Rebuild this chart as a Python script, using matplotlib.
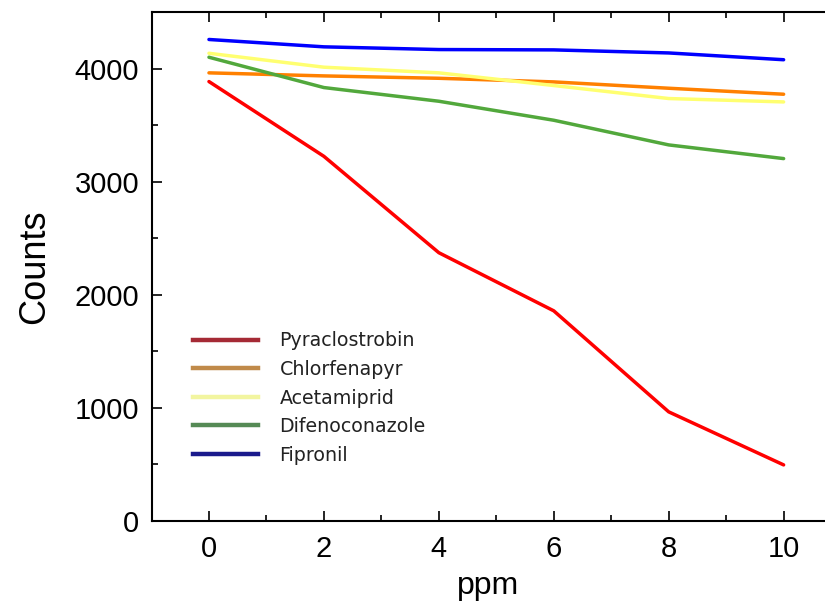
import matplotlib
matplotlib.use("Agg")
import matplotlib.pyplot as plt
from matplotlib.lines import Line2D
from matplotlib.ticker import MultipleLocator

ppm = [0, 2, 4, 6, 8, 10]
pyraclostrobin = [3885, 3224, 2372, 1858, 965, 496]
chlorfenapyr = [3962, 3935, 3914, 3882, 3826, 3773]
acetamiprid = [4135, 4012, 3962, 3850, 3735, 3705]
difenoconazole = [4100, 3832, 3711, 3543, 3325, 3204]
fipronil = [4257, 4192, 4168, 4165, 4138, 4078]

names = ["Pyraclostrobin", "Chlorfenapyr", "Acetamiprid", "Difenoconazole", "Fipronil"]
series = [pyraclostrobin, chlorfenapyr, acetamiprid, difenoconazole, fipronil]
line_colors = ["#ff0000", "#ff8000", "#ffff70", "#52a83c", "#0000ff"]
legend_colors = ["#a52a35", "#c08a4a", "#f2f5a0", "#558a55", "#1a1a8c"]

fig = plt.figure(figsize=(8.25, 6.01), dpi=100)
ax = fig.add_axes([151.5 / 825, 80 / 601, 1 - 151.5 / 825, 509 / 601])

for vals, c in zip(series, line_colors):
    ax.plot(ppm, vals, color=c, lw=2.5, solid_capstyle="round", zorder=3)

ax.set_xlim(-1, 10.72)
ax.set_ylim(0, 4500)
ax.xaxis.set_major_locator(MultipleLocator(2))
ax.xaxis.set_minor_locator(MultipleLocator(1))
ax.yaxis.set_major_locator(MultipleLocator(1000))
ax.yaxis.set_minor_locator(MultipleLocator(500))

for s in ["left", "bottom", "top"]:
    ax.spines[s].set_linewidth(1.5)
ax.spines["right"].set_visible(False)

ax.tick_params(which="both", direction="in", top=True, right=False, width=1.2)
ax.tick_params(which="major", length=7.5)
ax.tick_params(which="minor", length=4)
ax.tick_params(axis="x", which="major", pad=10)
ax.tick_params(axis="y", which="major", pad=9)

for lab in ax.get_xticklabels() + ax.get_yticklabels():
    lab.set_family("Liberation Sans")
    lab.set_fontsize(21)

ax.set_xlabel("ppm", family="Liberation Sans", fontsize=23, labelpad=6)
ax.set_ylabel("Counts", family="Liberation Sans", fontsize=26, labelpad=16)

handles = [Line2D([], [], color=c, lw=3.2) for c in legend_colors]
leg = fig.legend(handles, names, loc="center left",
                 bbox_to_anchor=(193 / 825, 1 - 398 / 601),
                 frameon=False, borderpad=0, borderaxespad=0,
                 handlelength=3.4, handletextpad=1.15, labelspacing=0.5,
                 prop={"family": "DejaVu Sans", "size": 13.7})
for t in leg.get_texts():
    t.set_color("#222222")

fig.savefig("out.png", dpi=100)
